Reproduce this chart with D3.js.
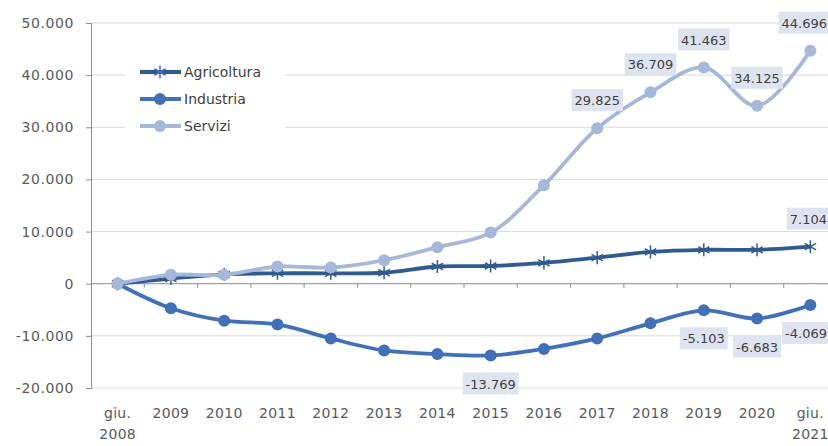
<!DOCTYPE html>
<html>
<head>
<meta charset="utf-8">
<script src="https://cdn.jsdelivr.net/npm/d3@7"></script>
<style>
  body { margin: 0; background: #fff; }
  text { font-family: "DejaVu Sans", sans-serif; }
</style>
</head>
<body>
<div id="chart"></div>
<script>
// categories (x axis)
const categories = ["giu.|2008", "2009", "2010", "2011", "2012", "2013", "2014", "2015", "2016", "2017", "2018", "2019", "2020", "giu.|2021"];

// series values
const agricoltura = [0, 1000, 1800, 2000, 2000, 2100, 3300, 3400, 4000, 5000, 6100, 6500, 6500, 7104];
const industria = [0, -4700, -7100, -7800, -10500, -12800, -13500, -13769, -12500, -10500, -7600, -5103, -6683, -4069];
const servizi = [0, 1700, 1700, 3300, 3100, 4500, 7000, 9800, 18900, 29825, 36709, 41463, 34125, 44696];

const yTicks = [-20000, -10000, 0, 10000, 20000, 30000, 40000, 50000];

// data labels: series, index, side (-1 above, +1 below)
const labels = [
  {s: "Servizi", i: 9, side: -1},
  {s: "Servizi", i: 10, side: -1},
  {s: "Servizi", i: 11, side: -1},
  {s: "Servizi", i: 12, side: -1},
  {s: "Servizi", i: 13, side: -1},
  {s: "Agricoltura", i: 13, side: -1},
  {s: "Industria", i: 7, side: 1},
  {s: "Industria", i: 11, side: 1},
  {s: "Industria", i: 12, side: 1},
  {s: "Industria", i: 13, side: 1}
];

const series = [
  {name: "Agricoltura", values: agricoltura, color: "#2f5b8f", marker: "star"},
  {name: "Industria", values: industria, color: "#4070b8", marker: "circle"},
  {name: "Servizi", values: servizi, color: "#a5b8da", marker: "circle"}
];

const fmt = v => d3.format(",")(v).replace(/,/g, ".").replace("\u2212", "-");

const W = 828, H = 446;
const margin = {left: 91, top: 23};
const plotRight = 837, plotBottom = 388;

const svg = d3.select("#chart").append("svg")
  .attr("width", W).attr("height", H);

const x = d3.scaleBand().domain(d3.range(categories.length))
  .range([margin.left, plotRight]);
const cx = i => x(i) + x.bandwidth() / 2;

const y = d3.scaleLinear().domain([-20000, 50000]).range([plotBottom, margin.top]);

// gridlines
svg.append("g").selectAll("line").data(yTicks.filter(d => d !== 0)).enter().append("line")
  .attr("x1", margin.left).attr("x2", W)
  .attr("y1", d => y(d)).attr("y2", d => y(d))
  .attr("stroke", "#d9d9d9").attr("stroke-width", 1);

// y axis
const yAxis = svg.append("g")
  .attr("transform", "translate(" + margin.left + ",0)")
  .call(d3.axisLeft(y).tickValues(yTicks).tickSize(5).tickPadding(12).tickFormat(fmt));
yAxis.select(".domain").attr("stroke", "#8c8c8c");
yAxis.selectAll(".tick line").attr("stroke", "#8c8c8c");
yAxis.selectAll("text").attr("fill", "#595959").style("font-size", "14px")
  .style("letter-spacing", "0.6px").style("font-family", "DejaVu Sans");

// zero line with ticks
const zeroY = y(0);
svg.append("line").attr("x1", margin.left).attr("x2", W)
  .attr("y1", zeroY).attr("y2", zeroY).attr("stroke", "#8c8c8c");
svg.append("g").selectAll("line").data(d3.range(1, categories.length)).enter().append("line")
  .attr("x1", d => x(d)).attr("x2", d => x(d))
  .attr("y1", zeroY).attr("y2", zeroY + 4).attr("stroke", "#8c8c8c");

// x labels
const xl = svg.append("g").selectAll("text").data(categories).enter().append("text")
  .attr("x", (d, i) => cx(i)).attr("y", 418)
  .attr("text-anchor", "middle").attr("fill", "#595959")
  .style("font-size", "14px").style("letter-spacing", "0.3px");
xl.each(function(d) {
  const parts = d.split("|");
  d3.select(this).selectAll("tspan").data(parts).enter().append("tspan")
    .attr("x", d3.select(this).attr("x"))
    .attr("dy", (p, k) => k === 0 ? 0 : 21)
    .text(p => p);
});

// lines
const line = d3.line().x((d, i) => cx(i)).y(d => y(d)).curve(d3.curveCatmullRom.alpha(0.5));
const star = d3.symbol().type(d3.symbolAsterisk).size(120);

series.forEach(s => {
  const g = svg.append("g");
  g.append("path").datum(s.values).attr("d", line)
    .attr("fill", "none").attr("stroke", s.color).attr("stroke-width", 3.8);
  if (s.marker === "circle") {
    g.selectAll("circle").data(s.values).enter().append("circle")
      .attr("cx", (d, i) => cx(i)).attr("cy", d => y(d)).attr("r", 6)
      .attr("fill", s.color);
  } else {
    g.selectAll("path.m").data(s.values).enter().append("path")
      .attr("class", "m").attr("d", star)
      .attr("transform", (d, i) => "translate(" + cx(i) + "," + y(d) + ")")
      .attr("fill", "none").attr("stroke", s.color).attr("stroke-width", 1.5);
  }
});

// data labels
const lg = svg.append("g");
labels.forEach(l => {
  const s = series.find(d => d.name === l.s);
  const v = s.values[l.i];
  const py = y(v) + l.side * 28;
  const t = lg.append("text").attr("x", cx(l.i)).attr("y", py + 5)
    .attr("text-anchor", "middle").attr("fill", "#404040")
    .style("font-size", "13px").text(fmt(v));
  let bb = t.node().getBBox();
  // keep labels inside the picture
  if (bb.x + bb.width > W - 1) {
    t.attr("x", cx(l.i) - (bb.x + bb.width - (W - 1)));
    bb = t.node().getBBox();
  }
  lg.insert("rect", "text").attr("x", bb.x - 3).attr("y", py - 11)
    .attr("width", bb.width + 6).attr("height", 22).attr("fill", "#dde4ef");
});

// legend
const leg = svg.append("g");
leg.append("rect").attr("x", 125).attr("y", 60).attr("width", 160).attr("height", 78).attr("fill", "#fff");
series.forEach((s, k) => {
  const ly = 72 + k * 27;
  leg.append("line").attr("x1", 140).attr("x2", 181).attr("y1", ly).attr("y2", ly)
    .attr("stroke", s.color).attr("stroke-width", 3.8);
  if (s.marker === "circle") {
    leg.append("circle").attr("cx", 160).attr("cy", ly).attr("r", 6).attr("fill", s.color);
  } else {
    leg.append("path").attr("d", star).attr("transform", "translate(160," + ly + ")")
      .attr("fill", "none").attr("stroke", "#4070b8").attr("stroke-width", 1.5);
  }
  leg.append("text").attr("x", 184).attr("y", ly + 5).attr("fill", "#404040")
    .style("font-size", "14px").text(s.name);
});
</script>
</body>
</html>
